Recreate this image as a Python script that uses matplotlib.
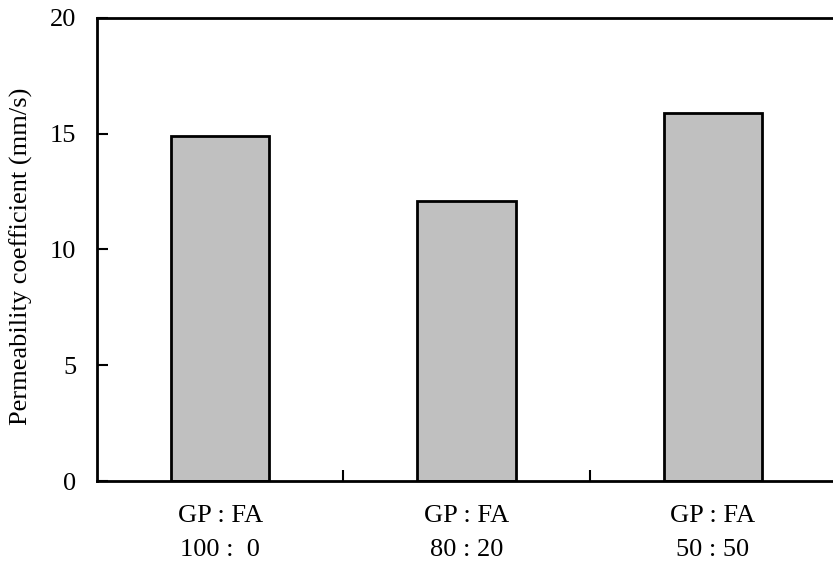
import matplotlib
matplotlib.use("Agg")
import matplotlib.pyplot as plt
import numpy as np

# Mix ratios and measured permeability
categories = ["GP : FA\n100 :  0", "GP : FA\n80 : 20", "GP : FA\n50 : 50"]
permeability = [14.9, 12.1, 15.9]
y_ticks = [0, 5, 10, 15, 20]

plt.rcParams["font.family"] = ["Liberation Serif", "DejaVu Serif"]
plt.rcParams["font.size"] = 19

W, H = 833, 571
fig = plt.figure(figsize=(W / 100, H / 100), dpi=100)
ax = fig.add_axes([97 / W, (H - 481) / H, (836 - 97) / W, (481 - 18) / H])

x = np.arange(len(categories)) + 0.5
ax.bar(x, permeability, width=0.4, color="#c0c0c0", edgecolor="black", linewidth=2, zorder=2)

ax.set_xlim(0, 3)
ax.set_ylim(0, 20)
ax.set_yticks(y_ticks)
ax.set_yticklabels([str(v) for v in y_ticks])

# category labels centred under bars, ticks at group boundaries
ax.set_xticks(x)
ax.set_xticklabels(categories, linespacing=1.75)
ax.tick_params(axis="x", which="major", length=0, pad=17)
ax.set_xticks([1, 2], minor=True)
ax.tick_params(axis="x", which="minor", direction="in", length=8, width=1.5)
ax.tick_params(axis="y", direction="in", length=8, width=1.5, pad=15)

for s in ax.spines.values():
    s.set_linewidth(2)

ax.set_ylabel("Permeability coefficient (mm/s)")
ax.yaxis.set_label_coords(-0.086, 0.485)

fig.savefig("out.png", dpi=100)
